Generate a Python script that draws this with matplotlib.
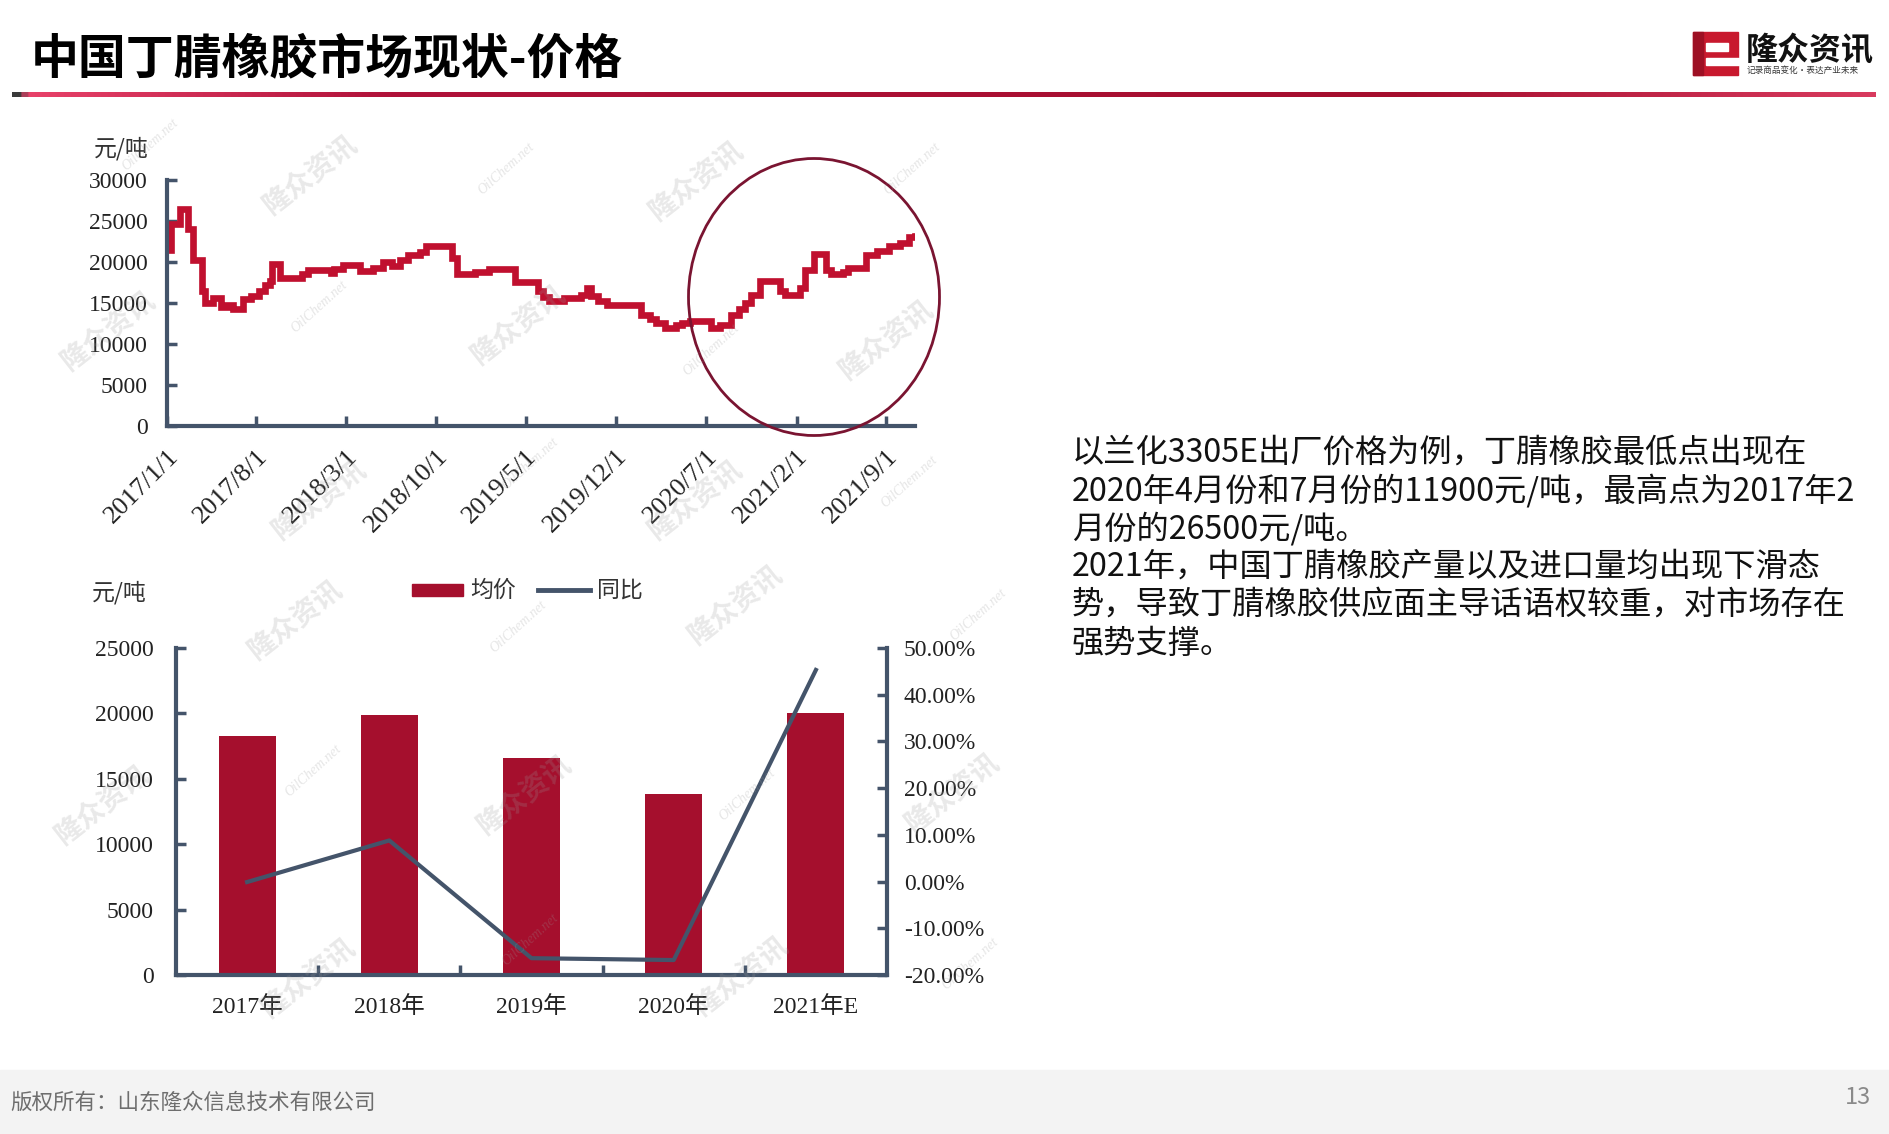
import matplotlib
matplotlib.use('Agg')
import matplotlib.pyplot as plt
import numpy as np
import pandas as pd
from matplotlib.patches import Ellipse, Rectangle
from matplotlib.colors import LinearSegmentedColormap

W, H = 1889, 1134
CJK = ['Noto Sans CJK SC', 'DejaVu Sans']
SERIF = ['Liberation Serif', 'Noto Sans CJK SC']

# ---------------- data ----------------
price_dates = ['2017-01-01', '2017-01-10', '2017-02-01', '2017-02-20', '2017-03-03', '2017-03-24',
               '2017-03-31', '2017-04-20', '2017-05-08', '2017-05-24', '2017-06-07', '2017-07-01',
               '2017-07-18', '2017-08-07', '2017-08-21', '2017-09-03', '2017-09-07', '2017-09-26',
               '2017-11-17', '2017-12-01', '2018-01-24', '2018-01-31', '2018-02-21', '2018-04-03',
               '2018-05-05', '2018-05-27', '2018-06-17', '2018-07-07', '2018-07-27', '2018-08-24',
               '2018-09-06', '2018-11-07', '2018-11-18', '2018-12-31', '2019-02-03', '2019-04-06',
               '2019-05-30', '2019-06-10', '2019-06-26', '2019-07-30', '2019-09-09', '2019-09-23',
               '2019-10-02', '2019-10-20', '2019-11-10', '2020-01-28', '2020-02-20', '2020-03-05',
               '2020-03-25', '2020-04-21', '2020-05-05', '2020-05-25', '2020-07-12', '2020-08-02',
               '2020-08-29', '2020-09-18', '2020-10-02', '2020-10-16', '2020-11-05', '2020-12-23',
               '2021-01-05', '2021-02-08', '2021-02-21', '2021-03-14', '2021-04-10', '2021-04-24',
               '2021-05-21', '2021-06-03', '2021-07-14', '2021-08-11', '2021-09-07', '2021-10-04',
               '2021-10-25', '2021-11-08']
price_values = [21500, 24600, 26500, 24000, 20300, 16500,
                15000, 15600, 14500, 14700, 14300, 15500,
                15900, 16500, 17200, 17700, 19800, 18000,
                18500, 19000, 18600, 19200, 19600, 18900,
                19300, 20000, 19500, 20300, 20800, 21200,
                22000, 20500, 18500, 18800, 19100, 17600,
                16500, 15700, 15300, 15600, 16000, 16800,
                15800, 15200, 14700, 13500, 13000, 12500,
                11900, 12300, 12500, 12800, 11900, 12300,
                13500, 14300, 15000, 16000, 17700, 16500,
                16000, 16800, 19000, 21000, 19000, 18500,
                18800, 19300, 20800, 21300, 22000, 22300,
                23000, 23200]
xtick_dates = ['2017-01-01', '2017-08-01', '2018-03-01', '2018-10-01', '2019-05-01',
               '2019-12-01', '2020-07-01', '2021-02-01', '2021-09-01']
xtick_labels = ['2017/1/1', '2017/8/1', '2018/3/1', '2018/10/1', '2019/5/1',
                '2019/12/1', '2020/7/1', '2021/2/1', '2021/9/1']
price_yticks = [0, 5000, 10000, 15000, 20000, 25000, 30000]

years = ['2017年', '2018年', '2019年', '2020年', '2021年E']
avg_price = [18240, 19850, 16580, 13800, 20050]
yoy_pct = [-0.1, 8.8, -16.4, -16.8, 45.3]
bar_yticks = [0, 5000, 10000, 15000, 20000, 25000]
pct_yticks = [-20, -10, 0, 10, 20, 30, 40, 50]

title = '中国丁腈橡胶市场现状-价格'
body_lines = ['以兰化3305E出厂价格为例，丁腈橡胶最低点出现在',
              '2020年4月份和7月份的11900元/吨，最高点为2017年2',
              '月份的26500元/吨。',
              '2021年，中国丁腈橡胶产量以及进口量均出现下滑态',
              '势，导致丁腈橡胶供应面主导话语权较重，对市场存在',
              '强势支撑。']
footer = '版权所有：山东隆众信息技术有限公司'
page_no = '13'

AXC = '#44546A'
RED_LINE = '#C0102F'
RED_BAR = '#A50F2D'

fig = plt.figure(figsize=(W / 100, H / 100), dpi=100)
fig.patch.set_facecolor('white')


def fx(x):
    return x / W


def fy(y):
    return 1 - y / H


# ---------------- top chart ----------------
ax1 = fig.add_axes([fx(167), fy(426), (915 - 167) / W, (426 - 180) / H])
d = pd.to_datetime(price_dates)
ax1.step(d, price_values, where='post', color=RED_LINE, lw=4.8, solid_joinstyle='miter')
ax1.set_ylim(0, 30000)
ax1.set_xlim(pd.Timestamp('2017-01-01'), pd.Timestamp('2021-11-08'))
ax1.set_yticks(price_yticks)
ax1.set_yticklabels([str(v) for v in price_yticks], family=SERIF, fontsize=17)
ax1.set_xticks(pd.to_datetime(xtick_dates))
ax1.set_xticklabels(xtick_labels, family=SERIF, fontsize=19, rotation=45,
                    ha='right', va='top', rotation_mode='anchor')
for s in ['top', 'right']:
    ax1.spines[s].set_visible(False)
for s in ['left', 'bottom']:
    ax1.spines[s].set_color(AXC)
    ax1.spines[s].set_linewidth(3)
ax1.tick_params(axis='both', direction='in', length=7, width=2.5, color=AXC, labelcolor='#222222')
ax1.tick_params(axis='y', pad=14)
ax1.tick_params(axis='x', pad=14)
ax1.patch.set_alpha(0)
fig.text(fx(94), fy(149), '元/吨', family=CJK, fontsize=16.5, va='center', ha='left', color='#333333')

fig.patches.append(Ellipse((fx(814), fy(297)), 251 / W, 277 / H, transform=fig.transFigure,
                           fill=False, ec='#7A1431', lw=2.0, zorder=5))

# ---------------- bottom chart ----------------
ax2 = fig.add_axes([fx(176), fy(975), (887 - 176) / W, (975 - 648) / H])
xpos = np.arange(len(years))
ax2.bar(xpos, avg_price, width=0.4, color=RED_BAR, zorder=2)
ax2.set_xlim(-0.5, len(years) - 0.5)
ax2.set_ylim(0, 25000)
ax2.set_yticks(bar_yticks)
ax2.set_yticklabels([str(v) for v in bar_yticks], family=SERIF, fontsize=17)
ax2.set_xticks(xpos)
ax2.set_xticklabels(years, family=SERIF, fontsize=17)
ax2.set_xticks(xpos[:-1] + 0.5, minor=True)
ax2.tick_params(axis='x', which='major', length=0, pad=15, labelcolor='#222222')
ax2.tick_params(axis='x', which='minor', direction='in', length=7, width=2.5, color=AXC)
ax2.tick_params(axis='y', direction='in', length=7, width=2.5, color=AXC, pad=16, labelcolor='#222222')
for s in ['top', 'right']:
    ax2.spines[s].set_visible(False)
for s in ['left', 'bottom']:
    ax2.spines[s].set_color(AXC)
    ax2.spines[s].set_linewidth(3)
ax2.patch.set_alpha(0)

ax3 = ax2.twinx()
ax3.plot(xpos, yoy_pct, color=AXC, lw=3, zorder=3)
ax3.set_ylim(-20, 50)
ax3.set_yticks(pct_yticks)
ax3.set_yticklabels([f'{v:.2f}%' for v in pct_yticks], family=SERIF, fontsize=17)
ax3.tick_params(axis='y', direction='in', length=7, width=2.5, color=AXC, pad=12, labelcolor='#222222')
for s in ['top', 'left', 'bottom']:
    ax3.spines[s].set_visible(False)
ax3.spines['right'].set_color(AXC)
ax3.spines['right'].set_linewidth(3)

fig.text(fx(92), fy(593), '元/吨', family=CJK, fontsize=16.5, va='center', ha='left', color='#333333')
# legend
fig.patches.append(Rectangle((fx(412), fy(596)), 51 / W, 12 / H, transform=fig.transFigure,
                             color=RED_BAR, zorder=4))
fig.text(fx(470), fy(590), '均价', family=CJK, fontsize=16.5, va='center', ha='left', color='#333333')
fig.lines.append(plt.Line2D([fx(538), fx(590)], [fy(590), fy(590)], transform=fig.transFigure,
                            color=AXC, lw=3.5))
fig.text(fx(597), fy(590), '同比', family=CJK, fontsize=16.5, va='center', ha='left', color='#333333')

# ---------------- header ----------------
fig.text(fx(31), fy(59), title, family=CJK, fontsize=34.5, fontweight='heavy', va='center',
         ha='left', color='black')
gax = fig.add_axes([fx(12), fy(97), (1876 - 12) / W, 5 / H])
cm = LinearSegmentedColormap.from_list('u', [(0, '#3a3a3a'), (0.006, '#E8426A'), (0.2, '#B0123A'),
                                             (0.75, '#A50E2E'), (1, '#D83A5E')])
gax.imshow(np.linspace(0, 1, 800).reshape(1, -1), aspect='auto', cmap=cm)
gax.axis('off')

# logo
fig.patches.append(Rectangle((fx(1693), fy(75)), 45 / W, 43 / H, transform=fig.transFigure,
                             color='#C8192E', zorder=4))
fig.patches.append(Rectangle((fx(1693), fy(75)), 10 / W, 43 / H, transform=fig.transFigure,
                             color='#9E1024', zorder=4))
fig.patches.append(Rectangle((fx(1706), fy(51)), 22 / W, 8 / H, transform=fig.transFigure,
                             color='white', zorder=5))
fig.patches.append(Rectangle((fx(1706), fy(65)), 33 / W, 7 / H, transform=fig.transFigure,
                             color='white', zorder=5))
fig.text(fx(1746), fy(51), '隆众资讯', family=CJK, fontsize=23, fontweight='bold', va='center',
         ha='left', color='#111111')
fig.text(fx(1747), fy(71), '记录商品变化·表达产业未来', family=CJK, fontsize=6.2, va='center',
         ha='left', color='#333333')

# ---------------- body text ----------------
line_y = [453, 491, 529, 567, 605, 644]
for t, yy in zip(body_lines, line_y):
    fig.text(fx(1072), fy(yy), t, family=CJK, fontsize=23.2, va='center', ha='left', color='#111111')

# ---------------- footer ----------------
fig.patches.append(Rectangle((0, 0), 1, (1134 - 1070) / H, transform=fig.transFigure,
                             color='#F3F3F3', zorder=0))
fig.text(fx(10), fy(1103), footer, family=CJK, fontsize=15.5, va='center', ha='left', color='#6E6E6E')
fig.text(fx(1871), fy(1097), page_no, family=CJK, fontsize=17, va='center', ha='right', color='#8A8A8A')

# ---------------- watermarks ----------------
wm_big = [(257, 145), (578, 150), (90, 275), (430, 270), (735, 282), (265, 415), (577, 415),
          (245, 515), (610, 502), (85, 668), (435, 660), (790, 658), (256, 812), (615, 810)]
wm_small = [(125, 120), (420, 140), (757, 140), (265, 255), (590, 290), (440, 385), (755, 400),
            (260, 640), (620, 660), (440, 780), (805, 800), (812, 510), (430, 520)]
s = 1889 / 1568
for (x, y) in wm_big:
    fig.text(fx(x * s), fy(y * s), '隆众资讯', family=CJK, fontsize=20, fontweight='bold',
             rotation=38, ha='center', va='center', color='#9A9A9A', alpha=0.22, zorder=6)
for (x, y) in wm_small:
    fig.text(fx(x * s), fy(y * s), 'OilChem.net', family=['Liberation Serif'], fontsize=10,
             style='italic', rotation=42, ha='center', va='center', color='#9A9A9A', alpha=0.25, zorder=6)

fig.savefig('out.png', dpi=100)
